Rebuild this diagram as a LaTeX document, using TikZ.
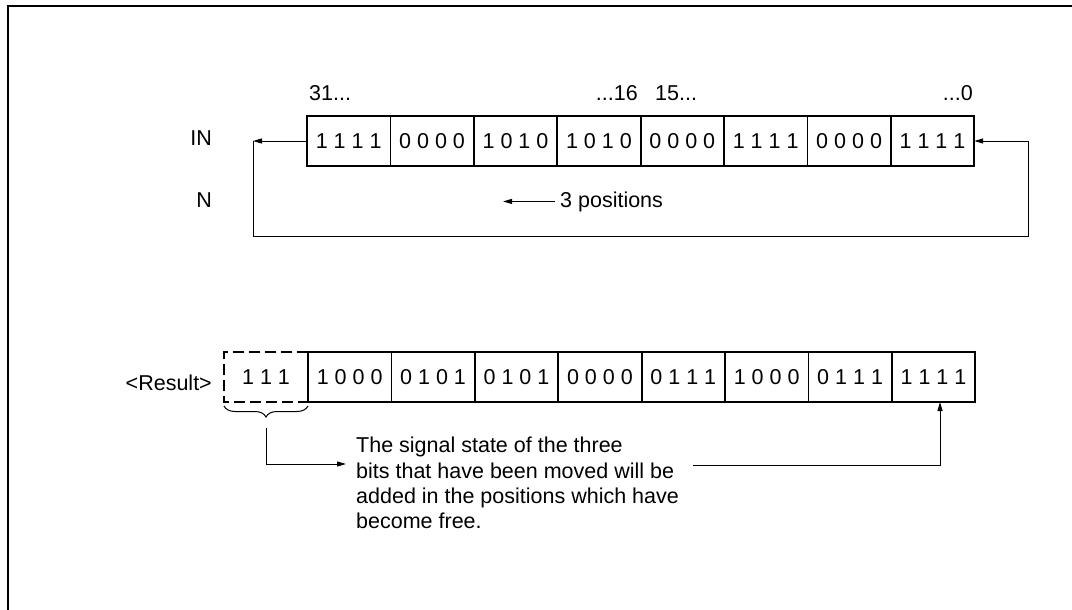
\documentclass[tikz,border=0pt]{standalone}
\usepackage{fontspec}
\setmainfont{Liberation Sans}
\usetikzlibrary{arrows.meta,decorations.pathreplacing,calc}
\begin{document}
\begin{tikzpicture}[x=1pt,y=-1pt,
  txt/.style={font=\fontsize{21.5}{25.3}\selectfont, inner sep=0pt},
  cell/.style={txt, draw, line width=1.8pt, minimum width=83.4pt, minimum height=50pt, outer sep=0pt},
  conn/.style={line width=1pt},
  arr/.style={conn, -{Triangle[length=9pt,width=5pt]}},
  frameline/.style={line width=2pt},
  dashbox/.style={line width=1.8pt, dash pattern=on 11pt off 5pt}]
\useasboundingbox (0,0) rectangle (1072,610);
\draw[frameline] (8,610) -- (8,6) -- (1072,6);

% top register (IN)
\foreach \v [count=\i] in {1 1 1 1,0 0 0 0,1 0 1 0,1 0 1 0,0 0 0 0,1 1 1 1,0 0 0 0,1 1 1 1}
  \node[cell] (t\i) at ({307+83.4*(\i-0.5)},141) {\v};

% bottom register (Result)
\foreach \v [count=\i] in {1 0 0 0,0 1 0 1,0 1 0 1,0 0 0 0,0 1 1 1,1 0 0 0,0 1 1 1,1 1 1 1}
  \node[cell] (r\i) at ({308+83.4*(\i-0.5)},377) {\v};
\node[txt, minimum width=84pt, minimum height=50pt, outer sep=0pt] (r0) at (266,377) {1 1 1};
\draw[dashbox] (r0.north east) -- (r0.north west) -- (r0.south west) -- (r0.south east);

% labels
\node[txt, anchor=base east] (lin) at (212,146) {IN};
\node[txt, anchor=base east] (ln) at (212,207) {N};
\node[txt, anchor=base east] (lres) at (212,390) {<Result>};
\node[txt, anchor=base west] (b31) at (309,100) {31...};
\node[txt, anchor=base east] (b16) at (638,100) {...16};
\node[txt, anchor=base west] (b15) at (655,100) {15...};
\node[txt, anchor=base east] (b0) at (973,100) {...0};

% rotation loop
\coordinate (lt) at (253,141);
\coordinate (rb) at (1028,236);
\draw[arr] (t1.west) -- (lt);
\draw[arr] (lt) |- (rb) |- (t8.east);

% 3 positions
\node[txt, anchor=base west, inner xsep=5pt] (pos) at (555,207) {3 positions};
\coordinate (pa) at (503,201);
\draw[arr] (pos.west) -- (pos.west -| pa);

% brace and explanation
\draw[conn, decorate, decoration={brace, mirror, amplitude=11pt}]
  ($(r0.south west)+(0,4)$) -- ($(r0.south east)+(0,4)$);
\coordinate (bt) at (266,428);
\coordinate (ta) at (346,464);
\draw[arr] (bt) |- (ta);
\node[txt, align=left, anchor=north west] (note) at (356,437)
  {The signal state of the three\\bits that have been moved will be\\added in the positions which have\\become free.};
\coordinate (c2) at (693,465);
\draw[arr] (c2) -| ([xshift=6.5pt]r8.south);
\end{tikzpicture}
\end{document}
